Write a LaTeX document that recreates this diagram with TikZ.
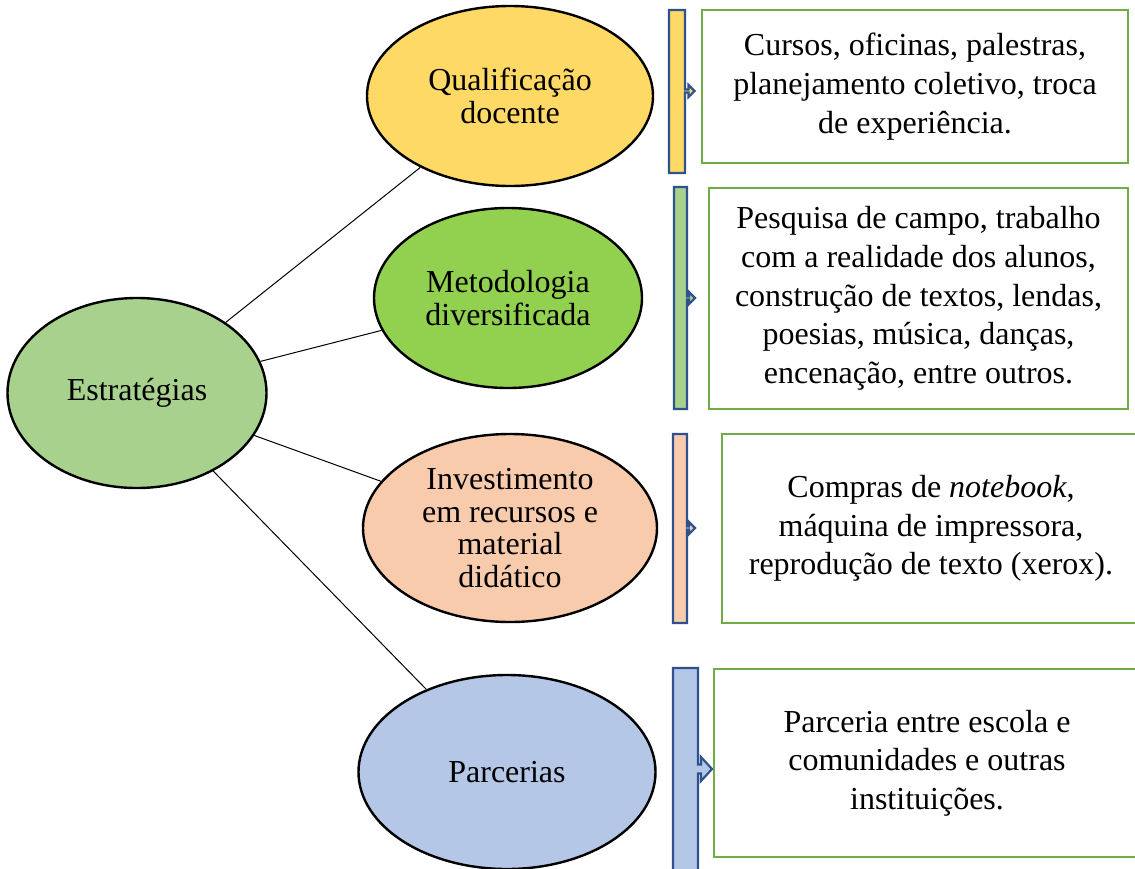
\documentclass[tikz,border=0pt]{standalone}
\usepackage{fontspec}
\setmainfont{Liberation Serif}
\usetikzlibrary{shapes.geometric}
\definecolor{cyellow}{HTML}{FFD966}
\definecolor{cgreenA}{HTML}{A9D18E}
\definecolor{cgreenB}{HTML}{92D050}
\definecolor{cpeach}{HTML}{F8CBAD}
\definecolor{cblue}{HTML}{B4C7E7}
\definecolor{cbarline}{HTML}{2F528F}
\definecolor{cboxline}{HTML}{70AD47}
\begin{document}
\begin{tikzpicture}[x=0.75pt,y=-0.75pt,
  ell/.style={ellipse,draw=black,line width=1.8pt,inner sep=0pt,align=center,
    font=\fontsize{24}{24.5}\selectfont},
  txtbox/.style={rectangle,draw=cboxline,line width=1.8pt,inner sep=0pt,align=center,
    font=\fontsize{24}{29}\selectfont},
  barshape/.style={draw=cbarline,line width=1.6pt,line join=miter},
  link/.style={draw=black,line width=0.75pt}]
\clip (0,0) rectangle (1135,868);
\fill[white] (0,0) rectangle (1135,868);

% ellipses
\node[ell,fill=cgreenA,minimum width=194.25pt,minimum height=142.5pt] (E) at (137,393) {Estratégias};
\node[ell,fill=cyellow,minimum width=214.5pt,minimum height=135pt] (Q) at (510,96) {Qualificação\\docente};
\node[ell,fill=cgreenB,minimum width=201pt,minimum height=135pt] (M) at (508,298) {Metodologia\\diversificada};
\node[ell,fill=cpeach,minimum width=220.5pt,minimum height=141pt] (I) at (510,528) {Investimento\\em recursos e\\material\\didático};
\node[ell,fill=cblue,minimum width=222.75pt,minimum height=145.5pt] (P) at (507,772) {Parcerias};

% connectors
\draw[link] (E) -- (Q);
\draw[link] (E) -- (M);
\draw[link] (E) -- (I);
\draw[link] (E) -- (P);

% bars with arrows
\draw[barshape,fill=cyellow] (669,10) -- (685,10) -- (685,89.5) -- (688.5,89.5) -- (688.5,85) -- (694.5,91) -- (688.5,97) -- (688.5,92.5) -- (685,92.5) -- (685,173) -- (669,173) -- cycle;
\draw[barshape,fill=cgreenA] (674,187) -- (687,187) -- (687,296.5) -- (689,296.5) -- (689,292) -- (695,298) -- (689,304) -- (689,299.5) -- (687,299.5) -- (687,409) -- (674,409) -- cycle;
\draw[barshape,fill=cpeach] (673,434) -- (687,434) -- (687,526.5) -- (689,526.5) -- (689,522) -- (695,528) -- (689,534) -- (689,529.5) -- (687,529.5) -- (687,623) -- (673,623) -- cycle;
\draw[barshape,fill=cblue] (673,668) -- (698,668) -- (698,764.5) -- (701,764.5) -- (701,757) -- (712,769) -- (701,781) -- (701,773.5) -- (698,773.5) -- (698,880) -- (673,880) -- cycle;

% text boxes
\node[txtbox,minimum width=319.5pt,minimum height=114.75pt] (B1) at (915,86.5)
  {Cursos, oficinas, palestras,\\planejamento coletivo, troca\\de experiência.};
\node[txtbox,minimum width=314.25pt,minimum height=165.75pt] (B2) at (918.5,298.5)
  {Pesquisa de campo, trabalho\\com a realidade dos alunos,\\construção de textos, lendas,\\poesias, música, danças,\\encenação, entre outros.};
\node[txtbox,minimum width=313.5pt,minimum height=141.75pt] (B3) at (931,528.5)
  {Compras de \textit{notebook},\\máquina de impressora,\\reprodução de texto (xerox).};
\node[txtbox,minimum width=319.5pt,minimum height=141pt] (B4) at (927,763)
  {Parceria entre escola e\\comunidades e outras\\instituições.};
\end{tikzpicture}
\end{document}
